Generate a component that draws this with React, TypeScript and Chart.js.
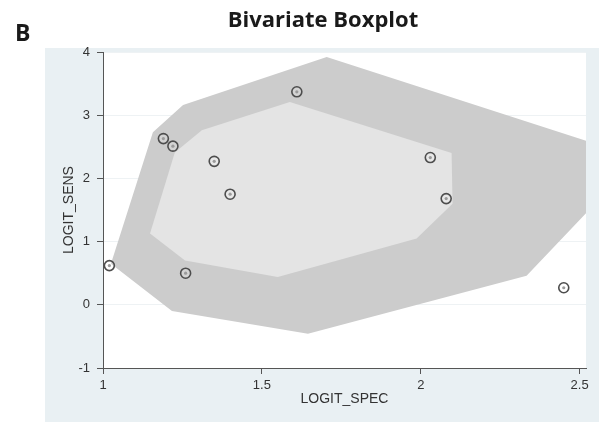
import React, { useEffect, useRef } from 'react';
import { Chart, registerables } from 'chart.js';

Chart.register(...registerables);

// Study points (LOGIT_SPEC, LOGIT_SENS)
const studyLogitSpec = [1.02, 1.26, 1.19, 1.22, 1.35, 1.40, 1.61, 2.03, 2.08, 2.45];
const studyLogitSens = [0.62, 0.50, 2.63, 2.51, 2.27, 1.75, 3.37, 2.33, 1.68, 0.27];

// Outer fence polygon (bivariate boxplot "bag" outer region)
const outerHullSpec = [1.025, 1.157, 1.252, 1.704, 2.53, 2.53, 2.333, 1.645, 1.217];
const outerHullSens = [0.65, 2.73, 3.16, 3.92, 2.58, 1.50, 0.46, -0.46, -0.10];

// Inner hinge polygon
const innerHullSpec = [1.148, 1.226, 1.311, 1.588, 2.097, 2.10, 1.987, 1.55, 1.258];
const innerHullSens = [1.13, 2.41, 2.76, 3.21, 2.40, 1.60, 1.05, 0.44, 0.70];

const xTickValues = [1, 1.5, 2, 2.5];
const yTickValues = [-1, 0, 1, 2, 3, 4];

const titleText = 'Bivariate Boxplot';
const panelLabel = 'B';
const xTitle = 'LOGIT_SPEC';
const yTitle = 'LOGIT_SENS';

const toPoints = (xs: number[], ys: number[]) => xs.map((x, i) => ({ x, y: ys[i] }));
const closed = (xs: number[], ys: number[]) => {
  const p = toPoints(xs, ys);
  return [...p, p[0]];
};

const FAMILY = '"Liberation Sans", Arial, sans-serif';

const bgPlugin = {
  id: 'bgPlugin',
  beforeDraw(chart: any) {
    const { ctx, chartArea: a, width, height } = chart;
    ctx.save();
    ctx.fillStyle = '#ffffff';
    ctx.fillRect(0, 0, width, height);
    ctx.fillStyle = '#e9f0f3';
    ctx.fillRect(45, 48, width - 45, height - 49);
    ctx.fillStyle = '#ffffff';
    ctx.fillRect(a.left, a.top, a.right - a.left, a.bottom - a.top);
    ctx.fillStyle = '#1a1a1a';
    ctx.textBaseline = 'alphabetic';
    ctx.textAlign = 'left';
    ctx.font = 'bold 23px "Open Sans", sans-serif';
    ctx.fillText(panelLabel, 15, 41);
    ctx.textAlign = 'center';
    ctx.font = 'bold 22px "Open Sans", sans-serif';
    ctx.fillText(titleText, 323, 27);
    ctx.restore();
  },
};

export default function App() {
  const ref = useRef<HTMLCanvasElement | null>(null);

  useEffect(() => {
    if (!ref.current) return;
    const chart = new Chart(ref.current, {
      type: 'scatter',
      data: {
        datasets: [
          {
            label: 'inner',
            data: closed(innerHullSpec, innerHullSens),
            showLine: true,
            fill: 'shape',
            backgroundColor: '#e4e4e4',
            borderWidth: 0,
            borderColor: 'rgba(0,0,0,0)',
            pointRadius: 0,
            tension: 0,
            order: 2,
          } as any,
          {
            label: 'outer',
            data: closed(outerHullSpec, outerHullSens),
            showLine: true,
            fill: 'shape',
            backgroundColor: '#cccccc',
            borderWidth: 0,
            borderColor: 'rgba(0,0,0,0)',
            pointRadius: 0,
            tension: 0,
            order: 3,
          } as any,
          {
            label: 'studies',
            data: toPoints(studyLogitSpec, studyLogitSens),
            pointStyle: 'circle',
            pointRadius: 5,
            borderWidth: 1.6,
            borderColor: '#4d4d4d',
            backgroundColor: 'rgba(255,255,255,0.15)',
            order: 1,
          },
          {
            label: 'studyMarks',
            data: toPoints(studyLogitSpec, studyLogitSens),
            pointStyle: 'circle',
            pointRadius: 1.6,
            borderWidth: 0,
            backgroundColor: '#9a9a9a',
            order: 0,
          },
        ],
      },
      options: {
        animation: false,
        responsive: false,
        devicePixelRatio: 1,
        events: [],
        layout: { padding: { top: 52, left: 45, right: 13, bottom: 8 } },
        plugins: {
          legend: { display: false },
          tooltip: { enabled: false },
          title: { display: false },
        },
        scales: {
          x: {
            type: 'linear',
            min: 1,
            max: 2.52,
            afterBuildTicks: (s: any) => {
              s.ticks = xTickValues.map((v) => ({ value: v }));
            },
            afterFit: (s: any) => {
              s.height = 47;
            },
            grid: {
              drawOnChartArea: false,
              drawTicks: true,
              tickLength: 6,
              tickColor: '#555555',
              tickWidth: 1,
            },
            border: { display: true, color: '#555555', width: 1 },
            ticks: {
              font: { family: FAMILY, size: 13 },
              color: '#333333',
              padding: 4,
              maxRotation: 0,
              autoSkip: false,
              callback: (v: any) => String(v),
            },
            title: {
              display: true,
              text: xTitle,
              font: { family: FAMILY, size: 14 },
              color: '#333333',
              padding: { top: 0, bottom: 7 },
            },
          },
          y: {
            type: 'linear',
            min: -1,
            max: 4,
            afterBuildTicks: (s: any) => {
              s.ticks = yTickValues.map((v) => ({ value: v }));
            },
            afterFit: (s: any) => {
              s.width = 58;
            },
            grid: {
              drawOnChartArea: true,
              color: '#eef2f4',
              drawTicks: true,
              tickLength: 6,
              tickColor: '#555555',
              tickWidth: 1,
            },
            border: { display: true, color: '#555555', width: 1 },
            ticks: {
              font: { family: FAMILY, size: 13 },
              color: '#333333',
              padding: 7,
              autoSkip: false,
              callback: (v: any) => String(v),
            },
            title: {
              display: true,
              text: yTitle,
              font: { family: FAMILY, size: 14 },
              color: '#333333',
              padding: { top: 16, bottom: 0 },
            },
          },
        },
      },
      plugins: [bgPlugin],
    });
    return () => chart.destroy();
  }, []);

  return (
    <div style={{ position: 'fixed', left: 0, top: 0, width: 599, height: 423 }}>
      <canvas ref={ref} width={599} height={423} style={{ display: 'block', width: 599, height: 423 }} />
    </div>
  );
}
